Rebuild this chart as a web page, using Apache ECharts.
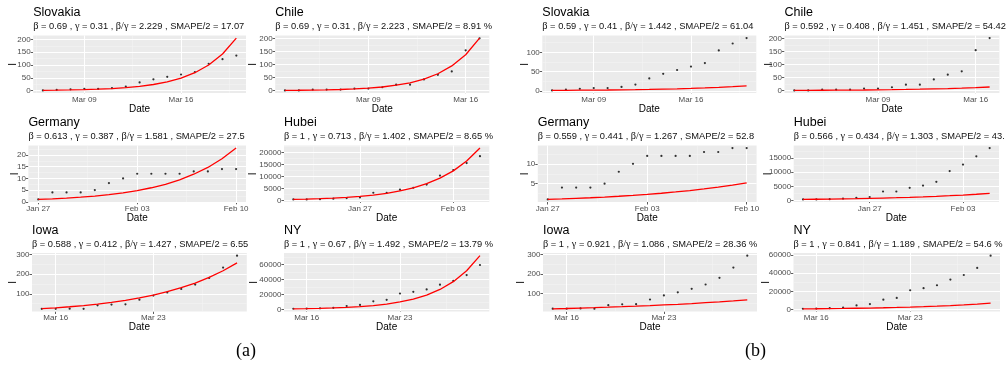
<!DOCTYPE html>
<html>
<head>
<meta charset="utf-8">
<script src="https://cdn.jsdelivr.net/npm/echarts@6/dist/echarts.min.js"></script>
<style>
  html, body { margin: 0; padding: 0; background: #fff; }
  #chart { width: 1007px; height: 366px; }
</style>
</head>
<body>
<div id="chart"></div>
<script>
// days are counted from Mon 2020-01-06, so every labelled Monday is a multiple of 7
const regions = ['Slovakia', 'Chile', 'Germany', 'Hubei', 'Iowa', 'NY'];
const firstDay = [60, 57, 21, 16, 69, 69];

// observed infected (dots), one value per day
const slovakiaI = [1, 3, 5, 7, 7, 10, 16, 32, 44, 54, 63, 72, 105, 123, 137];
const chileI = [1, 1, 4, 4, 4, 8, 8, 13, 23, 23, 43, 61, 74, 155, 201];
const germanyI = [1, 4, 4, 4, 5, 8, 10, 12, 12, 12, 12, 13, 13, 14, 14];
const hubeiI = [400, 400, 500, 700, 950, 1250, 3200, 3200, 4500, 5300, 6600, 10400, 12700, 15600, 18500];
const iowaI = [23, 23, 24, 23, 41, 45, 46, 70, 91, 107, 125, 147, 181, 234, 295];
const nyI = [800, 1000, 1400, 2000, 4500, 6000, 10800, 12700, 21200, 23500, 26700, 33000, 38000, 45800, 59300];
const observed = [slovakiaI, chileI, germanyI, hubeiI, iowaI, nyI];

// fitted curves (red), panel (a)
const slovakiaFitA = [1.4, 2, 2.8, 4, 5.7, 8.2, 12, 17, 24, 34, 49, 70, 100, 143, 205];
const chileFitA = [1, 1.5, 2.1, 3.1, 4.5, 6.6, 9.7, 14, 21, 30, 44, 65, 95, 138, 202];
const germanyFitA = [1, 1.25, 1.57, 1.96, 2.45, 3.07, 3.84, 4.8, 6, 7.5, 9.4, 11.8, 14.7, 18.4, 23];
const hubeiFitA = [400, 530, 710, 940, 1250, 1670, 2220, 2960, 3940, 5240, 6980, 9290, 12360, 16450, 21900];
const iowaFitA = [24, 28.4, 33.7, 39.9, 47.3, 56.1, 66.4, 78.7, 93.3, 110.5, 131, 155, 184, 218, 258];
const nyFitA = [700, 970, 1360, 1890, 2630, 3660, 5090, 7090, 9870, 13730, 19120, 26610, 37040, 51570, 71780];

// fitted curves (red), panel (b)
const slovakiaFitB = [1, 1.2, 1.44, 1.73, 2.07, 2.49, 2.99, 3.58, 4.3, 5.16, 6.19, 7.43, 8.92, 10.7, 12.8];
const chileFitB = [1, 1.21, 1.46, 1.76, 2.13, 2.57, 3.1, 3.74, 4.52, 5.45, 6.58, 7.95, 9.59, 11.6, 14];
const germanyFitB = [1, 1.13, 1.27, 1.42, 1.6, 1.8, 2.03, 2.28, 2.57, 2.89, 3.25, 3.66, 4.12, 4.63, 5.2];
const hubeiFitB = [400, 456, 521, 594, 678, 774, 883, 1007, 1149, 1311, 1496, 1707, 1948, 2223, 2536];
const iowaFitB = [22, 23.8, 25.9, 28, 30.4, 32.9, 35.7, 38.7, 41.9, 45.4, 49.2, 53.4, 57.9, 62.7, 68];
const nyFitB = [700, 825, 973, 1147, 1353, 1595, 1880, 2217, 2614, 3082, 3633, 4284, 5051, 5955, 7021];

const fits = {
  a: [slovakiaFitA, chileFitA, germanyFitA, hubeiFitA, iowaFitA, nyFitA],
  b: [slovakiaFitB, chileFitB, germanyFitB, hubeiFitB, iowaFitB, nyFitB],
};

// fitted parameters shown in the subtitles
const betaA = ['0.69', '0.69', '0.613', '1', '0.588', '1'];
const gammaA = ['0.31', '0.31', '0.387', '0.713', '0.412', '0.67'];
const ratioA = ['2.229', '2.223', '1.581', '1.402', '1.427', '1.492'];
const smapeA = ['17.07', '8.91', '27.53', '8.65', '6.55', '13.79'];
const betaB = ['0.59', '0.592', '0.559', '0.566', '1', '1'];
const gammaB = ['0.41', '0.408', '0.441', '0.434', '0.921', '0.841'];
const ratioB = ['1.442', '1.451', '1.267', '1.303', '1.086', '1.189'];
const smapeB = ['61.04', '54.42', '52.83', '43.11', '28.36', '54.6'];

// tick labels
const xTicks = [[63, 70], [63, 70], [21, 28, 35], [21, 28], [70, 77], [70, 77]];
const yTicksA = [[0, 50, 100, 150, 200], [0, 50, 100, 150, 200], [0, 5, 10, 15, 20],
  [0, 5000, 10000, 15000, 20000], [100, 200, 300], [0, 20000, 40000, 60000]];
const yTicksB = [[0, 50, 100], [0, 50, 100, 150, 200], [5, 10],
  [0, 5000, 10000, 15000], [100, 200, 300], [0, 20000, 40000, 60000]];

// ---- layout ----
const rowTop = [35.5, 145.5, 253];
const rowHeight = [57.5, 56.5, 58.5];
const panelX = {
  a: [[33.2, 246], [275.2, 489.3], [28.4, 246], [284, 489.3], [32, 246.8], [284, 489.3]],
  b: [[542.3, 756.3], [784.5, 999.4], [537.8, 756.6], [793.7, 999], [543, 757], [793.5, 1000]],
};
const yTitleX = { a: [12, 252, 14, 252, 12, 253], b: [524, 768, 524, 767, 520, 765] };
const clipRight = { a: [250, 494], b: [758, 1007] };
const FONT = '"Liberation Sans", Arial, sans-serif';

const months = ['Jan', 'Feb', 'Mar', 'Apr'];
function fmtDay(d) {
  const t = new Date(2020, 0, 6 + Math.round(d));
  return months[t.getMonth()] + ' ' + String(t.getDate()).padStart(2, '0');
}

// minor breaks sit halfway between major ones (ggplot style)
function minorOf(ticks, lo, hi) {
  const step = ticks.length > 1 ? ticks[1] - ticks[0] : 1;
  const ext = [ticks[0] - step].concat(ticks, [ticks[ticks.length - 1] + step]);
  const out = [];
  for (let j = 0; j < ext.length - 1; j++) {
    const m = (ext[j] + ext[j + 1]) / 2;
    if (m > lo && m < hi) out.push(m);
  }
  return out;
}

const option = {
  animation: false,
  backgroundColor: '#fff',
  title: [],
  grid: [],
  xAxis: [],
  yAxis: [],
  series: [],
  graphic: [
    { type: 'text', left: 236, top: 342, style: { text: '(a)', font: '18px "Liberation Serif"', fill: '#000' } },
    { type: 'text', left: 745, top: 342, style: { text: '(b)', font: '18px "Liberation Serif"', fill: '#000' } },
  ],
};

['a', 'b'].forEach((fig) => {
  const beta = fig === 'a' ? betaA : betaB;
  const gamma = fig === 'a' ? gammaA : gammaB;
  const ratio = fig === 'a' ? ratioA : ratioB;
  const smape = fig === 'a' ? smapeA : smapeB;
  const yTicks = fig === 'a' ? yTicksA : yTicksB;

  regions.forEach((name, i) => {
    const k = option.grid.length;
    const row = Math.floor(i / 2);
    const col = i % 2;
    const [x0, x1] = panelX[fig][i];
    const obs = observed[i];
    const fit = fits[fig][i];
    const days = obs.map((_, j) => firstDay[i] + j);

    const all = obs.concat(fit);
    const lo = Math.min(...all);
    const hi = Math.max(...all);
    const yMin = lo - (hi - lo) * 0.05;
    const yMax = hi + (hi - lo) * 0.05;
    const span = days[days.length - 1] - days[0];
    const xMin = days[0] - span * 0.05;
    const xMax = days[days.length - 1] + span * 0.05;

    option.title.push({
      text: name,
      subtext: '{g|β} = ' + beta[i] + ' , {g|γ} = ' + gamma[i] + ' , {g|β/γ} = ' + ratio[i] +
        ' , SMAPE/2 = ' + smape[i] + ' %',
      left: x0,
      top: rowTop[row] - 29,
      padding: 0,
      itemGap: 2,
      textStyle: { fontFamily: FONT, fontSize: 12.5, fontWeight: 'normal', color: '#000' },
      subtextStyle: {
        fontFamily: FONT, fontSize: 9.3, color: '#111',
        width: clipRight[fig][col] - x0, overflow: 'truncate', ellipsis: '',
        rich: { g: { fontFamily: '"Liberation Serif", serif', fontSize: 10.3, color: '#111' } },
      },
    });

    option.grid.push({
      left: x0,
      width: x1 - x0,
      top: rowTop[row],
      height: rowHeight[row],
      show: true,
      backgroundColor: '#EBEBEB',
      borderWidth: 0,
      outerBoundsMode: 'none',
    });

    option.xAxis.push({
      gridIndex: k,
      type: 'value',
      min: xMin,
      max: xMax,
      name: 'Date',
      nameLocation: 'middle',
      nameGap: 11,
      nameMoveOverlap: false,
      nameTextStyle: { fontFamily: FONT, fontSize: 10, color: '#000' },
      axisLine: { show: false },
      axisTick: { show: true, length: 2.5, lineStyle: { color: '#333', width: 0.8 }, customValues: xTicks[i] },
      axisLabel: { customValues: xTicks[i], formatter: fmtDay, fontFamily: FONT, fontSize: 8, color: '#4D4D4D', margin: 2.5 },
      splitLine: { show: false },
    });

    option.yAxis.push({
      gridIndex: k,
      type: 'value',
      min: yMin,
      max: yMax,
      name: 'I',
      nameLocation: 'middle',
      nameRotate: 90,
      nameGap: x0 - yTitleX[fig][i] - 6,
      nameMoveOverlap: false,
      nameTextStyle: { fontFamily: FONT, fontSize: 10, color: '#000' },
      axisLine: { show: false },
      axisTick: { show: true, length: 2.5, lineStyle: { color: '#333', width: 0.8 }, customValues: yTicks[i] },
      axisLabel: {
        customValues: yTicks[i], formatter: (v) => String(Math.round(v)),
        fontFamily: FONT, fontSize: 8, color: '#4D4D4D', margin: 2.5,
      },
      splitLine: { show: false },
    });

    // panel grid lines, major white, minor paler
    const lines = [];
    minorOf(xTicks[i], xMin, xMax).forEach((v) => lines.push({ xAxis: v, lineStyle: { color: '#F4F4F4', width: 0.5, type: 'solid' } }));
    minorOf(yTicks[i], yMin, yMax).forEach((v) => lines.push({ yAxis: v, lineStyle: { color: '#F4F4F4', width: 0.5, type: 'solid' } }));
    xTicks[i].forEach((v) => lines.push({ xAxis: v, lineStyle: { color: '#fff', width: 1, type: 'solid' } }));
    yTicks[i].filter((v) => v > yMin && v < yMax).forEach((v) => lines.push({ yAxis: v, lineStyle: { color: '#fff', width: 1, type: 'solid' } }));

    option.series.push({
      type: 'line',
      xAxisIndex: k,
      yAxisIndex: k,
      data: [],
      silent: true,
      z: 1,
      markLine: {
        z: 1,
        silent: true,
        symbol: ['none', 'none'],
        label: { show: false },
        lineStyle: { type: 'solid' },
        emphasis: { disabled: true },
        animation: false,
        data: lines,
      },
    });

    option.series.push({
      type: 'scatter',
      xAxisIndex: k,
      yAxisIndex: k,
      data: days.map((d, j) => [d, obs[j]]),
      symbolSize: 2.2,
      itemStyle: { color: '#000' },
      silent: true,
      z: 6,
    });

    option.series.push({
      type: 'line',
      xAxisIndex: k,
      yAxisIndex: k,
      data: days.map((d, j) => [d, fit[j]]),
      symbol: 'none',
      lineStyle: { color: '#FF0000', width: 1.3 },
      silent: true,
      z: 7,
    });
  });
});

const chart = echarts.init(document.getElementById('chart'), null, { renderer: 'canvas' });
chart.setOption(option);
</script>
</body>
</html>
